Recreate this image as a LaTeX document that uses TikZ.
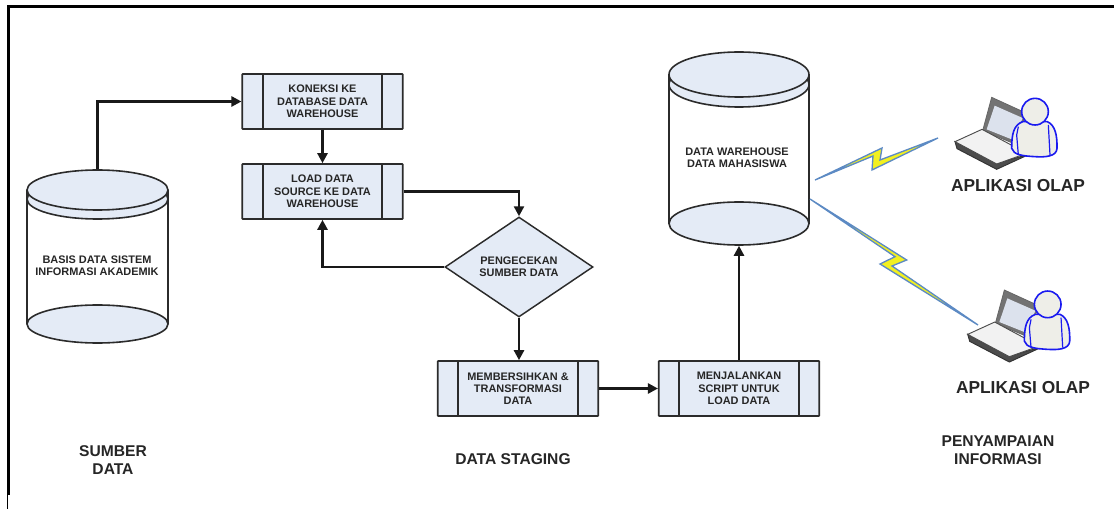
\documentclass[tikz,border=0pt]{standalone}
\usepackage{fontspec}
\setmainfont{Liberation Sans}
\usetikzlibrary{arrows.meta,shapes.geometric,positioning}
\definecolor{boxfill}{HTML}{E4EBF6}
\definecolor{lineink}{HTML}{2B2B2B}
\definecolor{txtink}{HTML}{262626}
\definecolor{boltline}{HTML}{5C8AC4}
\definecolor{boltfill}{HTML}{F2F020}
\definecolor{userblue}{HTML}{1A1AF0}
\definecolor{userfill}{HTML}{EEEEE8}
\def\pxu{0.75pt}
\tikzset{
  smalltxt/.style={font=\bfseries\fontsize{8.2}{9.2}\selectfont,text=txtink,align=center},
  bigtxt/.style={font=\bfseries\fontsize{11.7}{13.2}\selectfont,text=txtink,align=center},
  olaptxt/.style={font=\bfseries\fontsize{13}{14}\selectfont,text=txtink,align=center},
  procbox/.style={draw=lineink,line width=1.2pt,fill=boxfill,rounded corners=0.4pt,
    minimum width=160.5*\pxu,minimum height=55*\pxu,inner sep=0pt,smalltxt,
    path picture={
      \draw[lineink,line width=1.2pt]
        ([xshift=20.5*\pxu]path picture bounding box.north west) -- ([xshift=20.5*\pxu]path picture bounding box.south west)
        ([xshift=-20.5*\pxu]path picture bounding box.north east) -- ([xshift=-20.5*\pxu]path picture bounding box.south east);
    }},
  decide/.style={diamond,draw=lineink,line width=1.1pt,fill=boxfill,inner sep=0pt,aspect=1.48,
    minimum width=148*\pxu,minimum height=100*\pxu,smalltxt},
  cylbody/.style={draw=none,fill=white,inner sep=0pt,smalltxt},
  cylcap/.style={ellipse,draw=lineink,line width=1.2pt,fill=boxfill,inner sep=0pt},
  flow/.style={draw=black!90,line width=1.8pt,-{Triangle[length=7.5pt,width=7.5pt]}},
  bolt/.style={draw=boltline,line width=1pt,fill=boltfill,line join=miter},
  pics/laptopuser/.style={code={
    \begin{scope}[x=0.25pt,y=-0.25pt]
      % lid
      \filldraw[draw=black!60,line width=0.6pt,fill=black!55] (575,52) -- (680,100) -- (640,190) -- (548,152) -- cycle;
      \fill[boxfill!92!gray] (584,77) -- (668,114) -- (640,180) -- (560,148) -- cycle;
      % base
      \filldraw[draw=black!80,line width=0.7pt,fill=black!70] (465,185) -- (471,206) -- (590,268) -- (690,222) -- (590,250) -- cycle;
      \filldraw[draw=black!70,line width=0.7pt,fill=black!5] (465,185) -- (546,148) -- (680,220) -- (590,252) -- cycle;
      % user
      \filldraw[draw=userblue,line width=1.2pt,fill=userfill]
        (668,125) .. controls (640,135) and (635,165) .. (635,205)
        .. controls (640,225) and (670,228) .. (705,230)
        .. controls (735,232) and (770,230) .. (771,205)
        .. controls (772,165) and (765,135) .. (742,125) -- cycle;
      \draw[userblue,line width=0.9pt] (655,140) -- (650,165) -- (655,225);
      \draw[userblue,line width=0.9pt] (745,135) -- (750,225);
      \filldraw[draw=userblue,line width=1.2pt,fill=userfill] (705,95) circle [radius=40];
    \end{scope}
  }}
}
\begin{document}
\begin{tikzpicture}[x=0.75pt,y=-0.75pt]
\useasboundingbox (0,0) rectangle (1114,509);
% page frame
\draw[black,line width=2.3pt] (1114,6.5) -- (8.5,6.5) -- (8.5,495);
\draw[black,line width=0.7pt] (7.5,495) -- (7.5,509);

% source cylinder
\node[cylbody,minimum width=141*\pxu,minimum height=134*\pxu] (srcbody) at (97.5,257) {};
\node[cylcap,minimum width=141*\pxu,minimum height=40*\pxu] (srcrim) at (97.5,199) {};
\draw[lineink,line width=1.2pt] (srcbody.north west) -- (srcbody.south west) (srcbody.north east) -- (srcbody.south east);
\node[cylcap,minimum width=141*\pxu,minimum height=40*\pxu] (srctop) at (97.5,190) {};
\node[cylcap,minimum width=141*\pxu,minimum height=38*\pxu] (srcbot) at (97.5,324) {};
\node[smalltxt] (srclabel) at (97,266) {BASIS DATA SISTEM\\INFORMASI AKADEMIK};

% warehouse cylinder
\node[cylbody,minimum width=140*\pxu,minimum height=149*\pxu] (dwbody) at (739,149) {};
\node[cylcap,minimum width=140*\pxu,minimum height=45*\pxu] (dwrim) at (739,84.5) {};
\draw[lineink,line width=1.2pt] (dwbody.north west) -- (dwbody.south west) (dwbody.north east) -- (dwbody.south east);
\node[cylcap,minimum width=140*\pxu,minimum height=45*\pxu] (dwtop) at (739,74.5) {};
\node[cylcap,minimum width=140*\pxu,minimum height=43*\pxu] (dwbot) at (739,223.5) {};
\node[smalltxt] (dwlabel) at (737,158) {DATA WAREHOUSE\\DATA MAHASISWA};

% process boxes
\node[procbox] (koneksi) at (322.5,101.5) {KONEKSI KE\\DATABASE DATA\\WAREHOUSE};
\node[procbox] (load) at (322.5,191.5) {LOAD DATA\\SOURCE KE DATA\\WAREHOUSE};
\node[decide] (cek) at (519,267) {PENGECEKAN\\SUMBER DATA};
\node[procbox] (bersih) at (518,388.5) {MEMBERSIHKAN \&\\TRANSFORMASI\\DATA};
\node[procbox] (script) at (739,388.5) {MENJALANKAN\\SCRIPT UNTUK\\LOAD DATA};

% connectors
\draw[flow] (srctop.north) |- (koneksi.west);
\draw[flow] (koneksi.south) -- (load.north);
\draw[flow] (load.east) -| (cek.north);
\draw[flow] (cek.west) -| (load.south);
\draw[flow] (cek.south) -- (cek.south |- bersih.north);
\draw[flow] (bersih.east) -- (script.west);
\draw[flow] (script.north) -- (dwbot.south);

% lightning links
\coordinate (boltA) at (815,180);
\coordinate (boltB) at (938,138);
\coordinate (boltC) at (810,199);
\coordinate (boltD) at (978,325);
\draw[bolt] (boltA) -- (882,148) -- (880,160) -- (boltB) -- (872,170) -- (873,156) -- cycle;
\draw[bolt] (boltC) -- (906.7,260) -- (892,266) -- (boltD) -- (880,264) -- (895,256.7) -- cycle;

% users
\pic at (800,80) {laptopuser};
\pic at (812.7,272.7) {laptopuser};

% labels
\node[olaptxt] (olapa) at (1018,186) {APLIKASI OLAP};
\node[olaptxt] (olapb) at (1023,388) {APLIKASI OLAP};
\node[bigtxt] (lsumber) at (113,460) {SUMBER\\DATA};
\node[bigtxt] (lstaging) at (513,459) {DATA STAGING};
\node[bigtxt] (lsampai) at (998,450) {PENYAMPAIAN\\INFORMASI};
\end{tikzpicture}
\end{document}
